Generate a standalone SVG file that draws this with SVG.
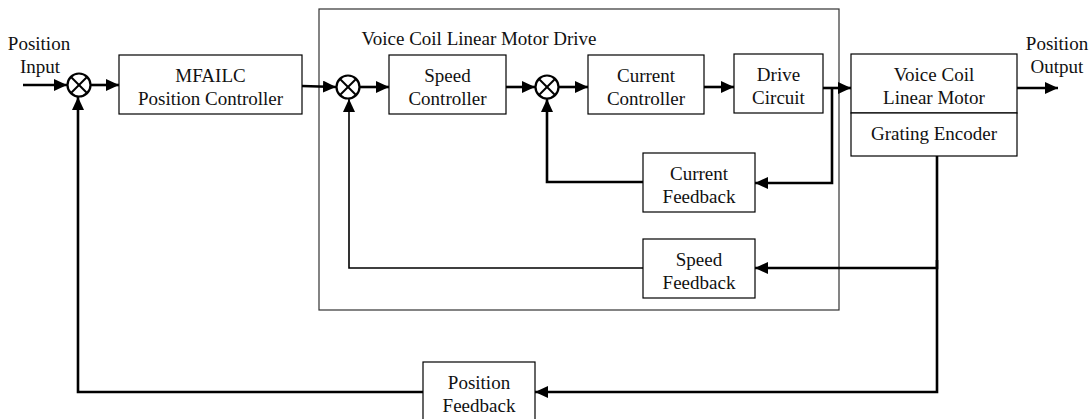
<svg xmlns="http://www.w3.org/2000/svg" width="1091" height="419" viewBox="0 0 1091 419">
  <style>
    .box { fill: #fff; stroke: #000; stroke-width: 1.2; }
    .frame { fill: none; stroke: #333; stroke-width: 1.2; }
    .sum { fill: #fff; stroke: #000; stroke-width: 2.2; }
    .cross { stroke: #000; stroke-width: 2; }
    text { font-family: 'Liberation Serif', 'Times New Roman', Times, serif; font-size: 19px; fill: #111; text-anchor: middle; }
    .wire { fill: none; stroke: #000; stroke-width: 2.6; }
    .thin { fill: none; stroke: #000; stroke-width: 1.6; }
  </style>
  <defs>
    <marker id="arr" markerUnits="userSpaceOnUse" markerWidth="14" markerHeight="12" refX="13" refY="6" orient="auto">
      <path d="M0,0 L13,6 L0,12 Z" fill="#000"/>
    </marker>
    <symbol id="summer" viewBox="-12 -12 24 24" overflow="visible">
      <circle class="sum" cx="0" cy="0" r="11.5"/>
      <line class="cross" x1="-8" y1="-8" x2="8" y2="8"/>
      <line class="cross" x1="-8" y1="8" x2="8" y2="-8"/>
    </symbol>
  </defs>

  <rect width="1091" height="419" fill="#fff"/>

  <g font-family="Liberation Serif, Times New Roman, serif" font-size="19">

  <!-- drive enclosure -->
  <g id="drive">
    <rect class="frame" x="319" y="9" width="520" height="301"/>
    <text x="479" y="45">Voice Coil Linear Motor Drive</text>
  </g>

  <!-- connectors -->
  <g id="connectors">
    <line class="wire" x1="23" y1="85" x2="67" y2="85" marker-end="url(#arr)"/>
    <line class="wire" x1="91" y1="85" x2="119" y2="85" marker-end="url(#arr)"/>
    <polyline class="wire" points="302,86 336,87" marker-end="url(#arr)"/>
    <line class="wire" x1="360" y1="87" x2="389" y2="87" marker-end="url(#arr)"/>
    <line class="wire" x1="506" y1="87" x2="535" y2="87" marker-end="url(#arr)"/>
    <line class="wire" x1="559" y1="87" x2="588" y2="87" marker-end="url(#arr)"/>
    <line class="wire" x1="704" y1="87" x2="734" y2="87" marker-end="url(#arr)"/>
    <line class="wire" x1="823" y1="88" x2="851" y2="88" marker-end="url(#arr)"/>
    <line class="wire" x1="1017" y1="88" x2="1058" y2="88" marker-end="url(#arr)"/>
    <!-- current loop -->
    <polyline class="wire" points="832,88 832,183 755,183" marker-end="url(#arr)"/>
    <polyline class="wire" points="643,182 547,182 547,99" marker-end="url(#arr)"/>
    <!-- speed loop -->
    <polyline class="wire" points="937,156 937,268 755,268" marker-end="url(#arr)"/>
    <polyline class="thin" points="643,268 349,268 349,99" marker-end="url(#arr)"/>
    <!-- position loop -->
    <polyline class="wire" points="937,260 937,392 535,392" marker-end="url(#arr)"/>
    <polyline class="wire" points="423,392 78,392 78,97" marker-end="url(#arr)"/>
  </g>

  <g id="input-label">
    <text x="39" y="50">Position</text>
    <text x="40" y="73">Input</text>
  </g>
  <g id="output-label">
    <text x="1057" y="50">Position</text>
    <text x="1057" y="73">Output</text>
  </g>

  <g id="sum-position"><use href="#summer" x="67" y="73" width="24" height="24"/></g>
  <g id="sum-speed"><use href="#summer" x="336" y="75" width="24" height="24"/></g>
  <g id="sum-current"><use href="#summer" x="535" y="75" width="24" height="24"/></g>

  <g id="mfailc">
    <rect class="box" x="119" y="55" width="183" height="59"/>
    <text x="210.5" y="82">MFAILC</text>
    <text x="210.5" y="105">Position Controller</text>
  </g>
  <g id="speed-controller">
    <rect class="box" x="389" y="55" width="117" height="59"/>
    <text x="447.5" y="82">Speed</text>
    <text x="447.5" y="105">Controller</text>
  </g>
  <g id="current-controller">
    <rect class="box" x="588" y="55" width="116" height="59"/>
    <text x="646" y="82">Current</text>
    <text x="646" y="105">Controller</text>
  </g>
  <g id="drive-circuit">
    <rect class="box" x="734" y="54" width="89" height="59"/>
    <text x="778.5" y="81">Drive</text>
    <text x="778.5" y="104">Circuit</text>
  </g>
  <g id="motor">
    <rect class="box" x="851" y="54" width="166" height="59"/>
    <text x="934" y="81">Voice Coil</text>
    <text x="934" y="104">Linear Motor</text>
  </g>
  <g id="encoder">
    <rect class="box" x="851" y="113" width="166" height="43"/>
    <text x="934" y="140">Grating Encoder</text>
  </g>
  <g id="current-feedback">
    <rect class="box" x="643" y="153" width="112" height="59"/>
    <text x="699" y="180">Current</text>
    <text x="699" y="203">Feedback</text>
  </g>
  <g id="speed-feedback">
    <rect class="box" x="643" y="239" width="112" height="59"/>
    <text x="699" y="266">Speed</text>
    <text x="699" y="289">Feedback</text>
  </g>
  <g id="position-feedback">
    <rect class="box" x="423" y="362" width="112" height="60"/>
    <text x="479" y="389">Position</text>
    <text x="479" y="412">Feedback</text>
  </g>

  </g>
</svg>
